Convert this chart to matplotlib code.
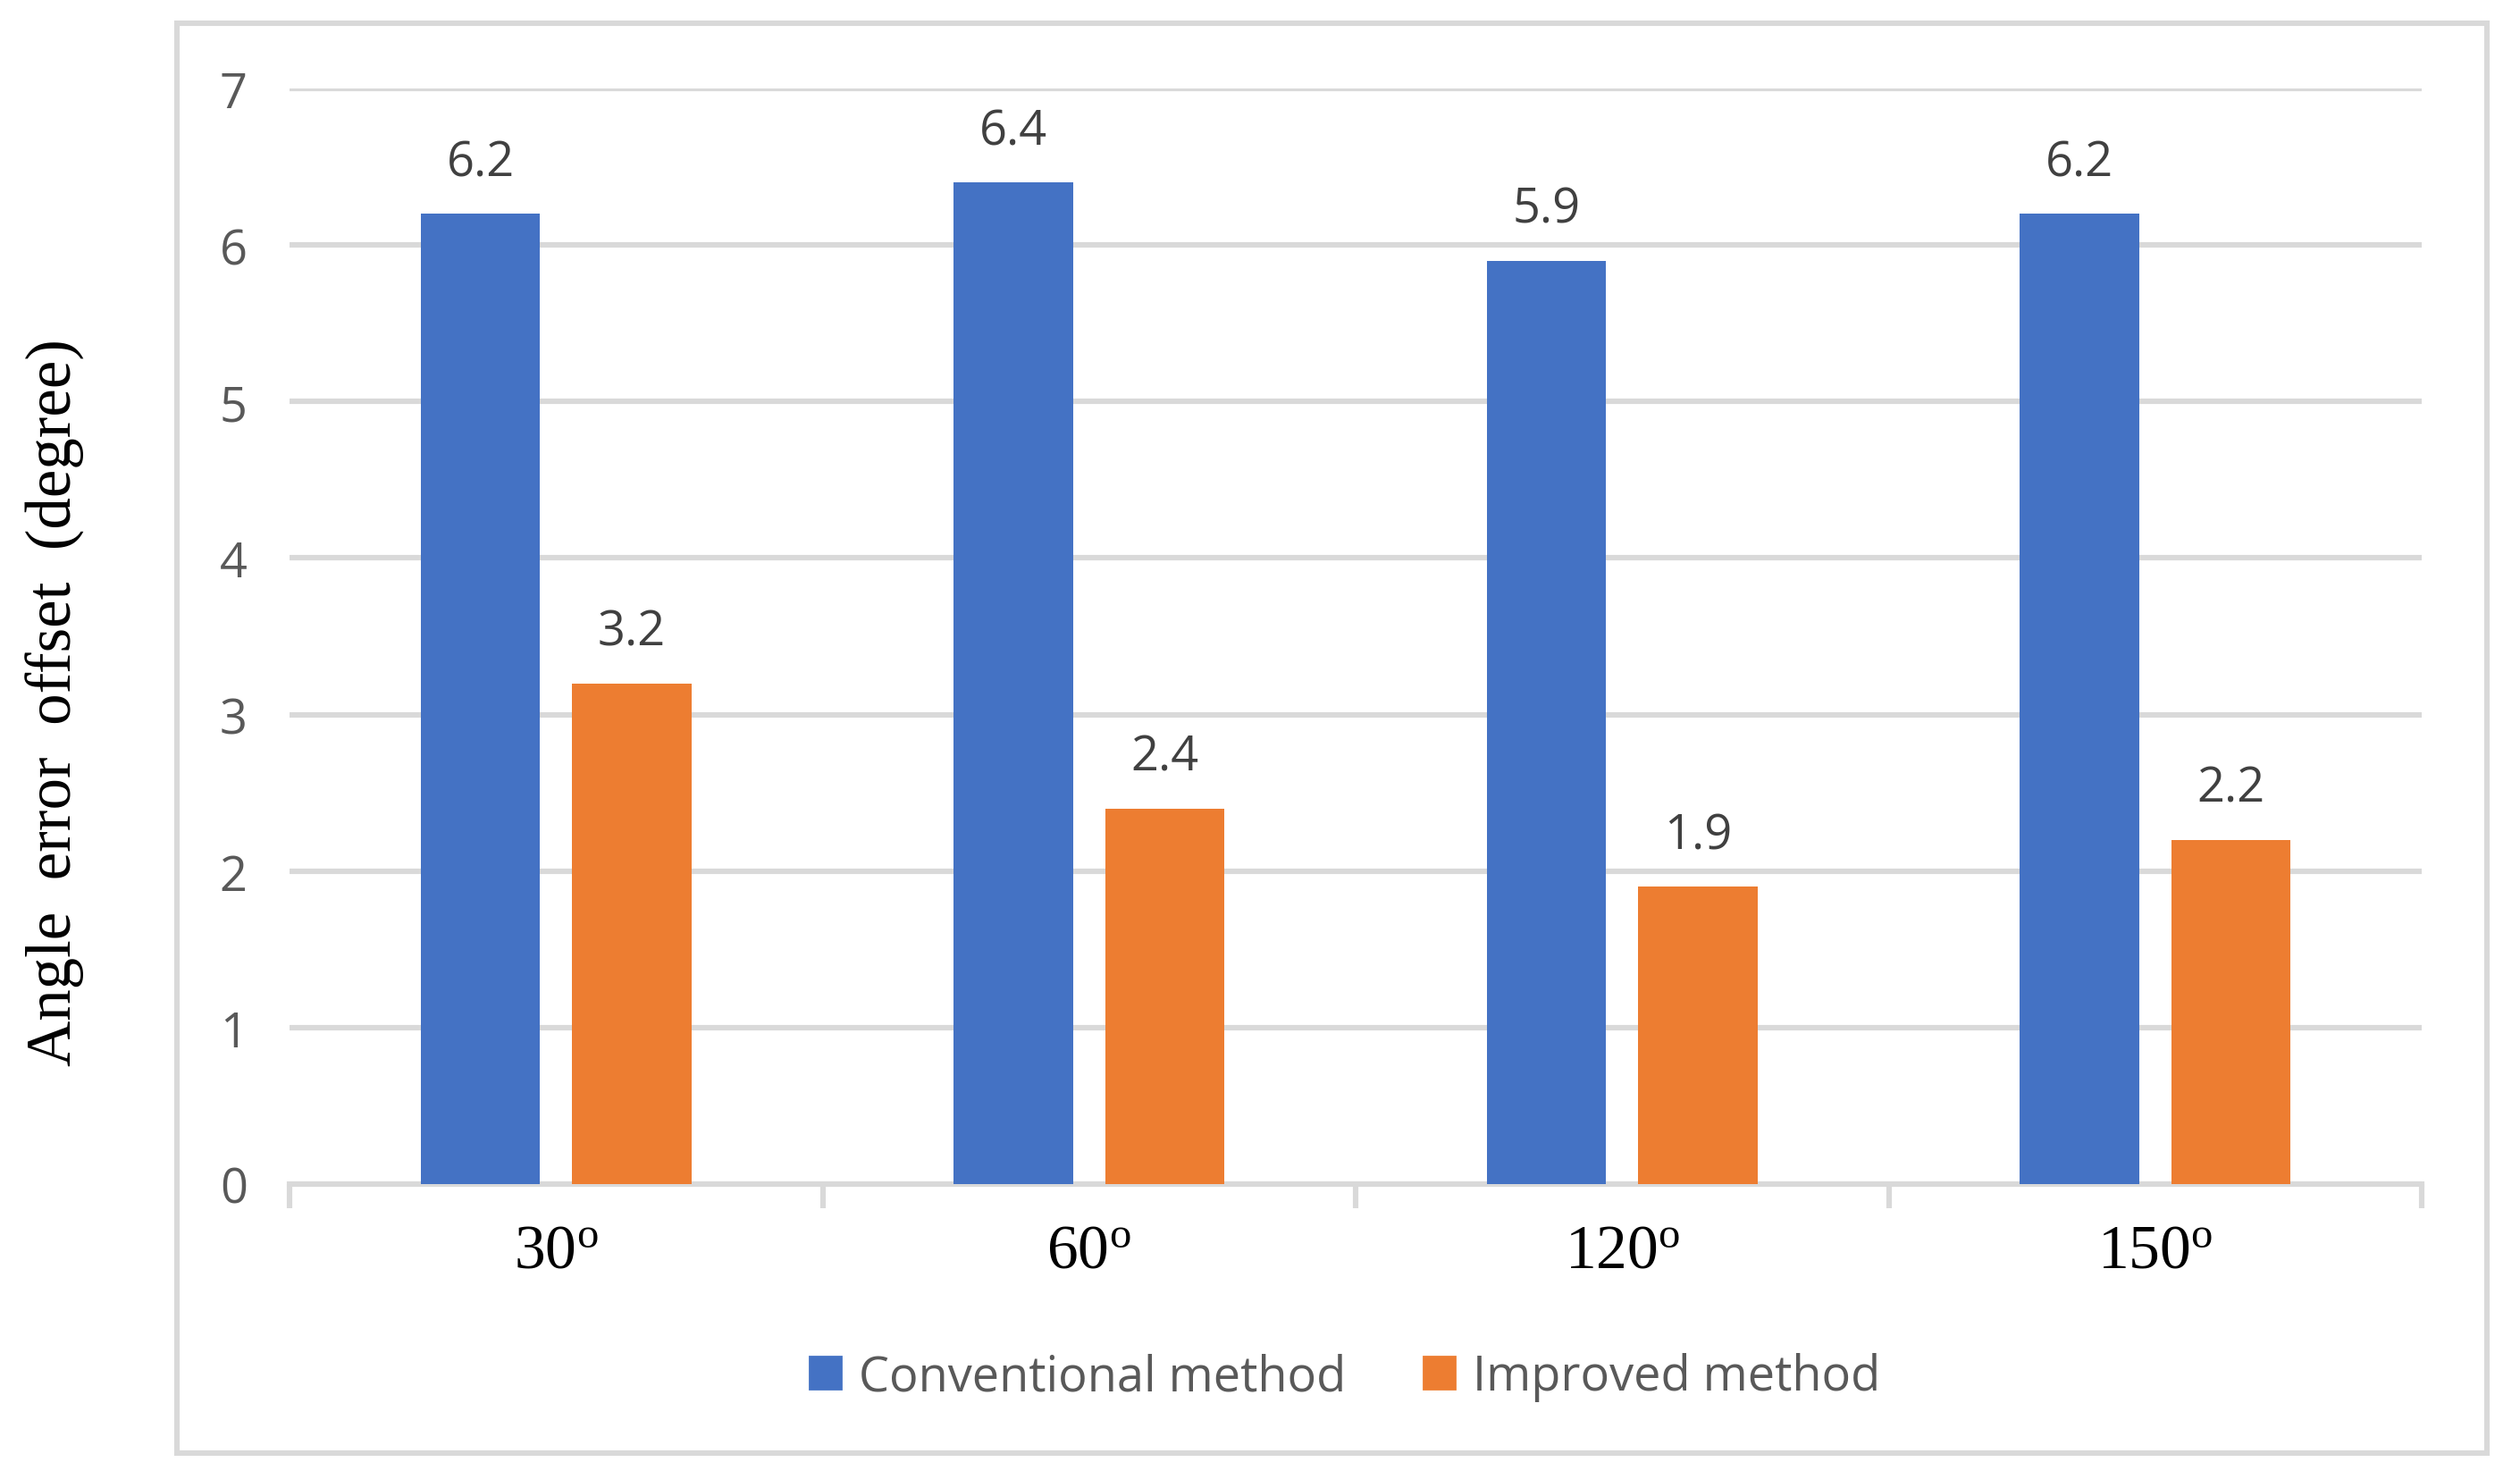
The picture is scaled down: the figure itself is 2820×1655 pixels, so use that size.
import matplotlib
matplotlib.use('Agg')
import matplotlib.pyplot as plt
from matplotlib.patches import Rectangle, Patch
import numpy as np

# DATA
angles = ['30', '60', '120', '150']
conventional = [6.2, 6.4, 5.9, 6.2]
improved = [3.2, 2.4, 1.9, 2.2]
series_names = ['Conventional method', 'Improved method']
y_ticks = [0, 1, 2, 3, 4, 5, 6, 7]

# STYLE
BLUE = '#4472C4'
ORANGE = '#ED7D31'
GRID = '#D9D9D9'
TICK_GRAY = '#595959'
LABEL_GRAY = '#404040'
SANS = ['Open Sans', 'DejaVu Sans']
SERIF = ['Liberation Serif', 'DejaVu Serif']

fig = plt.figure(figsize=(14.1, 8.28), dpi=200)

# light gray chart border (Excel style)
fig.patches.append(Rectangle((0.0702, 0.0175), 0.9167, 0.9662, transform=fig.transFigure,
                             fill=False, edgecolor=GRID, linewidth=2.2, zorder=0))

ax = fig.add_axes([0.1149, 0.1993, 0.8461, 0.7403])

x = np.arange(len(angles))
width = 0.224
offset = 0.142
b1 = ax.bar(x - offset, conventional, width, color=BLUE, zorder=3)
b2 = ax.bar(x + offset, improved, width, color=ORANGE, zorder=3)

# value labels above bars
for bars, vals in [(b1, conventional), (b2, improved)]:
    for rect, v in zip(bars, vals):
        ax.annotate(f'{v:.1f}', (rect.get_x() + rect.get_width() / 2, v),
                    xytext=(0, 15.5), textcoords='offset points',
                    ha='center', va='baseline', fontsize=19.5,
                    color=LABEL_GRAY, family=SANS)

ax.set_xlim(-0.5, len(angles) - 0.5)
ax.set_ylim(0, 7)
ax.set_yticks(y_ticks)
ax.set_yticklabels([str(t) for t in y_ticks], fontsize=19.5, color=TICK_GRAY, family=SANS)
ax.tick_params(axis='y', length=0, pad=17)

ax.set_xticks(x)
ax.set_xticklabels(['$\\mathregular{' + a + '^o}$' for a in angles], fontsize=25,
                   family=SERIF, color='black')
ax.tick_params(axis='x', which='major', length=0, pad=16)
ax.set_xticks(np.arange(-0.5, len(angles)), minor=True)
ax.tick_params(axis='x', which='minor', length=9.7, width=2.2, color=GRID, direction='out')

ax.grid(axis='y', color=GRID, linewidth=2.2, zorder=0)
ax.set_axisbelow(True)
for side in ['top', 'right', 'left']:
    ax.spines[side].set_visible(False)
ax.spines['bottom'].set_color(GRID)
ax.spines['bottom'].set_linewidth(2.2)

ax.set_ylabel('Angle  error  offset  (degree)', fontsize=25.5, family=SERIF,
              color='black', labelpad=0)
ax.yaxis.set_label_coords(-0.096, 0.44)

handles = [Patch(color=BLUE), Patch(color=ORANGE)]
fig.legend(handles, series_names, loc='center', bbox_to_anchor=(0.5337, 0.069),
           ncol=2, frameon=False, prop={'family': SANS, 'size': 19.5},
           labelcolor=TICK_GRAY, handlelength=0.65, handleheight=0.65,
           handletextpad=0.36, columnspacing=1.6)

fig.savefig('out.png', dpi=200, facecolor='white')
print('Saved: out.png')
